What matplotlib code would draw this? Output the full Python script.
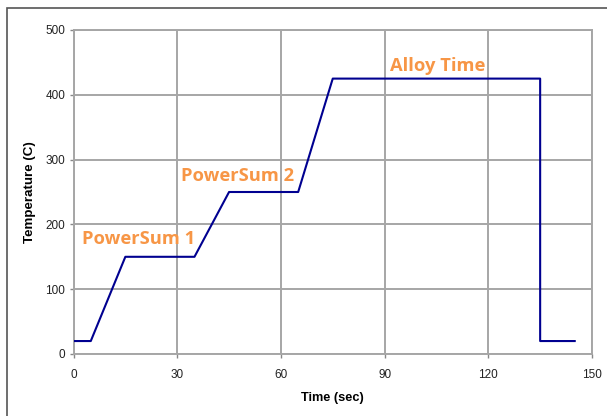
import matplotlib.pyplot as plt
import matplotlib.patches as mpatches

plt.rcParams['font.family'] = ['Liberation Sans', 'DejaVu Sans']

# reflow profile
time_s = [0, 5, 15, 35, 45, 65, 75, 135, 135, 145]
temp_c = [20, 20, 150, 150, 250, 250, 425, 425, 20, 20]

x_ticks = [0, 30, 60, 90, 120, 150]
y_ticks = [0, 100, 200, 300, 400, 500]

stage_names = ['PowerSum 1', 'PowerSum 2', 'Alloy Time']
stage_x = [2.5, 31, 91.5]
stage_y = [177, 274, 445]

W, H = 607, 416
fig = plt.figure(figsize=(W / 100, H / 100), dpi=100)
ax = fig.add_axes([73.5 / W, 1 - 354 / H, (592 - 73.5) / W, (354 - 30) / H])

# outer chart frame (runs off the right/bottom edges)
fig.patches.append(mpatches.Rectangle((7 / W, -0.05), 1.1, 1 - 8 / H + 0.05,
                                      transform=fig.transFigure, fill=False,
                                      edgecolor='#555555', linewidth=1.2))

ax.plot(time_s, temp_c, color='#000090', linewidth=1.5, zorder=3)

ax.set_xlim(0, 150)
ax.set_ylim(0, 500)
ax.set_xticks(x_ticks)
ax.set_yticks(y_ticks)
ax.grid(True, color='#a6a6a6', linewidth=1.4)
ax.set_axisbelow(True)
for side in ['top', 'right', 'left', 'bottom']:
    ax.spines[side].set_color('#a6a6a6')
    ax.spines[side].set_linewidth(1.4)
ax.tick_params(axis='both', length=3, width=1, color='#888888',
               labelsize=8.5, labelcolor='#222222')
ax.tick_params(axis='x', pad=7.5)
ax.tick_params(axis='y', pad=3)

ax.set_xlabel('Time (sec)', fontsize=9.2, weight='bold', labelpad=8)
ax.set_ylabel('Temperature (C)', fontsize=9.6, weight='bold', labelpad=7)

for name, x, y in zip(stage_names, stage_x, stage_y):
    ax.text(x, y, name, color='#f79646', fontsize=13.2, weight='bold',
            family=['Open Sans', 'DejaVu Sans'], ha='left', va='center')

plt.savefig('out.png', dpi=100)
